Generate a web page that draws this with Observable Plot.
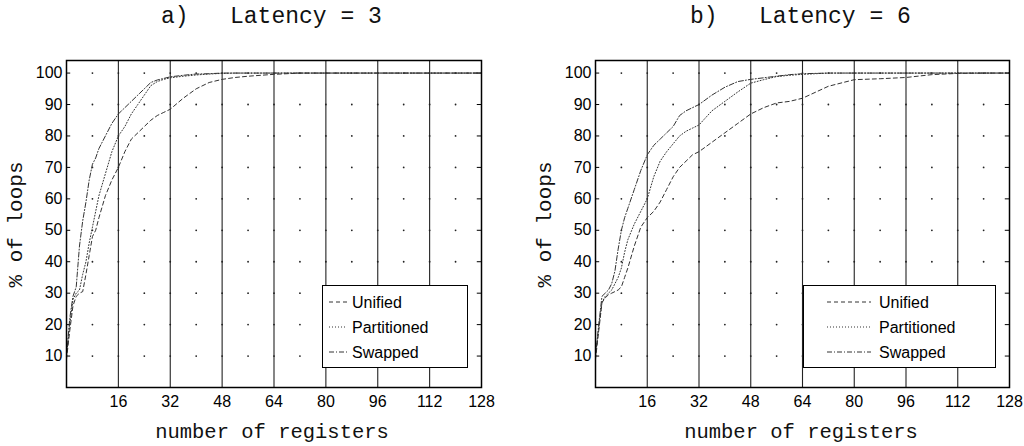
<!DOCTYPE html>
<html><head><meta charset="utf-8">
<script src="https://cdn.jsdelivr.net/npm/d3@7"></script>
<script src="https://cdn.jsdelivr.net/npm/@observablehq/plot@0.6"></script>
<style>
body{margin:0;background:#fff;}
#wrap{position:relative;width:1024px;height:446px;overflow:hidden;background:#fff;}
.p{position:absolute;top:0;}
.mono{position:absolute;font-family:"Liberation Mono","DejaVu Sans Mono",monospace;color:#111;white-space:pre;line-height:1;}
.leg{position:absolute;border:1px solid #000;background:#fff;box-sizing:border-box;}
</style></head><body><div id="wrap"></div>
<script>
// number of registers (x) at which each cumulative curve is sampled
const xs = [0,1,2,3,4,5,6,7,8,9,10,12,14,16,18,20,22,24,26,28,30,32,36,40,44,48,52,56,60,64,72,80,88,96,104,112,120,128];

// a) Latency = 3  (% of loops)
const aUnified     = [9,18,26,29,30,30.5,36,42,48,50,54,61,66,70,75,79,81,83,85,86.5,87.5,88.5,92,95,97,98,98.6,99,99.3,99.6,100,100,100,100,100,100,100,100];
const aPartitioned = [10,20,28,30,31,36,40,46,51,56,61,68,75,80,83,87,90,93,96,97.3,98,98.5,99,99.4,99.7,99.9,100,100,100,100,100,100,100,100,100,100,100,100];
const aSwapped     = [10,22,29,32,45,53,59,66,71,73,76,80,84,87,89,91,93,95,97,97.8,98.3,98.8,99.3,99.7,99.8,100,100,100,100,100,100,100,100,100,100,100,100,100];

// b) Latency = 6
const bUnified     = [9,18,27,28.5,29.5,30,30.5,31,32,35,38,45,51,54,56,59,63,67,70,72,74,75,78,81,84,87,89,90.5,91,92,95.8,97.9,98.2,98.6,99.5,99.9,100,100];
const bPartitioned = [10,19,27,29,30,31,33,35,38,43,47,52,56,60,67,72,75,77.5,80,81.5,82.5,83.5,88,91,94,96.8,97.9,98.9,99.3,99.6,100,100,100,100,100,100,100,100];
const bSwapped     = [10,20,29,30,31,33,37,44,50,54,57,63,69,74,77,79,81,83,86.5,88,89,90,93,95.5,97.3,98,98.5,99,99.5,99.8,100,100,100,100,100,100,100,100];

const series = ["Unified","Partitioned","Swapped"];
const dashes = ["4,3","1,2","5,2,1,2"];
const xTicks = [16,32,48,64,80,96,112,128];
const yTicks = [10,20,30,40,50,60,70,80,90,100];
const gridX = [8,16,24,32,40,48,56,64,72,80,88,96,104,112,120];
const vLines = [16,32,48,64,80,96,112];

const wrap = document.getElementById("wrap");

function panel(vals, marginLeft, marginRight) {
  const rows = series.flatMap((s,i)=> xs.map((x,j)=>({s, x, y: vals[i][j]})));
  const dots = gridX.flatMap(x=>yTicks.map(y=>({x,y})));
  return Plot.plot({
    width:512, height:446, marginTop:60, marginBottom:59, marginLeft, marginRight,
    x:{domain:[0,128]}, y:{domain:[0,104]},
    style:{fontFamily:"'Liberation Sans', Arial, sans-serif", fontSize:"16px", background:"transparent", color:"#000"},
    marks:[
      Plot.ruleX(vLines,{stroke:"#222", strokeWidth:1.1}),
      Plot.dot(dots,{x:"x",y:"y",r:0.9,fill:"#222",stroke:null}),
      Plot.ruleY(yTicks,{x1:0,x2:1.3,stroke:"#000"}),
      Plot.ruleY(yTicks,{x1:126.7,x2:128,stroke:"#000"}),
      ...series.map((s,i)=>Plot.line(rows.filter(d=>d.s===s),{x:"x",y:"y",stroke:"#333",strokeWidth:1,strokeDasharray:dashes[i]})),
      Plot.frame({stroke:"#000",strokeWidth:1.5}),
      Plot.axisX({ticks:xTicks,tickSize:0,tickPadding:8,label:null,fontSize:16}),
      Plot.axisY({ticks:yTicks,tickSize:0,tickPadding:4,label:null,fontSize:16})
    ]
  });
}

function place(el, left) { el.classList.add("p"); el.style.left = left+"px"; wrap.appendChild(el); }
place(panel([aUnified,aPartitioned,aSwapped], 66, 31), 0);
place(panel([bUnified,bPartitioned,bSwapped], 83, 15), 512);

function mono(text, left, top, size) {
  const d = document.createElement("div"); d.className="mono"; d.textContent=text;
  d.style.left=left+"px"; d.style.top=top+"px"; d.style.fontSize=size+"px"; wrap.appendChild(d); return d;
}
function centered(text, cx, top, size) {
  const d = mono(text, 0, top, size); const w = d.getBoundingClientRect().width; d.style.left=(cx-w/2)+"px"; return d;
}
function ylabel(text, cx, cy, size) {
  const d = mono(text, 0, 0, size); const r = d.getBoundingClientRect();
  d.style.left=(cx-r.width/2)+"px"; d.style.top=(cy-r.height/2)+"px"; d.style.transform="rotate(-90deg)";
}
mono("a)   Latency = 3", 161, 6, 23);
mono("b)   Latency = 6", 690, 6, 23);
centered("number of registers", 272, 423, 20.5);
centered("number of registers", 801, 423, 20.5);
ylabel("% of loops", 16, 224, 21);
ylabel("% of loops", 545, 224, 21);

function legend(left, top, w, h, lx1, lx2, tx) {
  const ns="http://www.w3.org/2000/svg";
  const d=document.createElement("div"); d.className="leg";
  d.style.left=left+"px"; d.style.top=top+"px"; d.style.width=w+"px"; d.style.height=h+"px";
  const svg=document.createElementNS(ns,"svg"); svg.setAttribute("width",w-2); svg.setAttribute("height",h-2);
  series.forEach((s,i)=>{
    const y=16+i*25;
    const l=document.createElementNS(ns,"line");
    l.setAttribute("x1",lx1); l.setAttribute("x2",lx2); l.setAttribute("y1",y); l.setAttribute("y2",y);
    l.setAttribute("stroke","#333"); l.setAttribute("stroke-dasharray",dashes[i]); svg.appendChild(l);
    const t=document.createElementNS(ns,"text");
    t.setAttribute("x",tx); t.setAttribute("y",y); t.setAttribute("dy","0.35em");
    t.setAttribute("font-family","'Liberation Sans', Arial, sans-serif"); t.setAttribute("font-size","16");
    t.textContent=s; svg.appendChild(t);
  });
  d.appendChild(svg); wrap.appendChild(d);
}
legend(322, 285, 146, 83, 6, 24, 29);
legend(803, 285, 193, 83, 23, 67, 75);
</script></body></html>
